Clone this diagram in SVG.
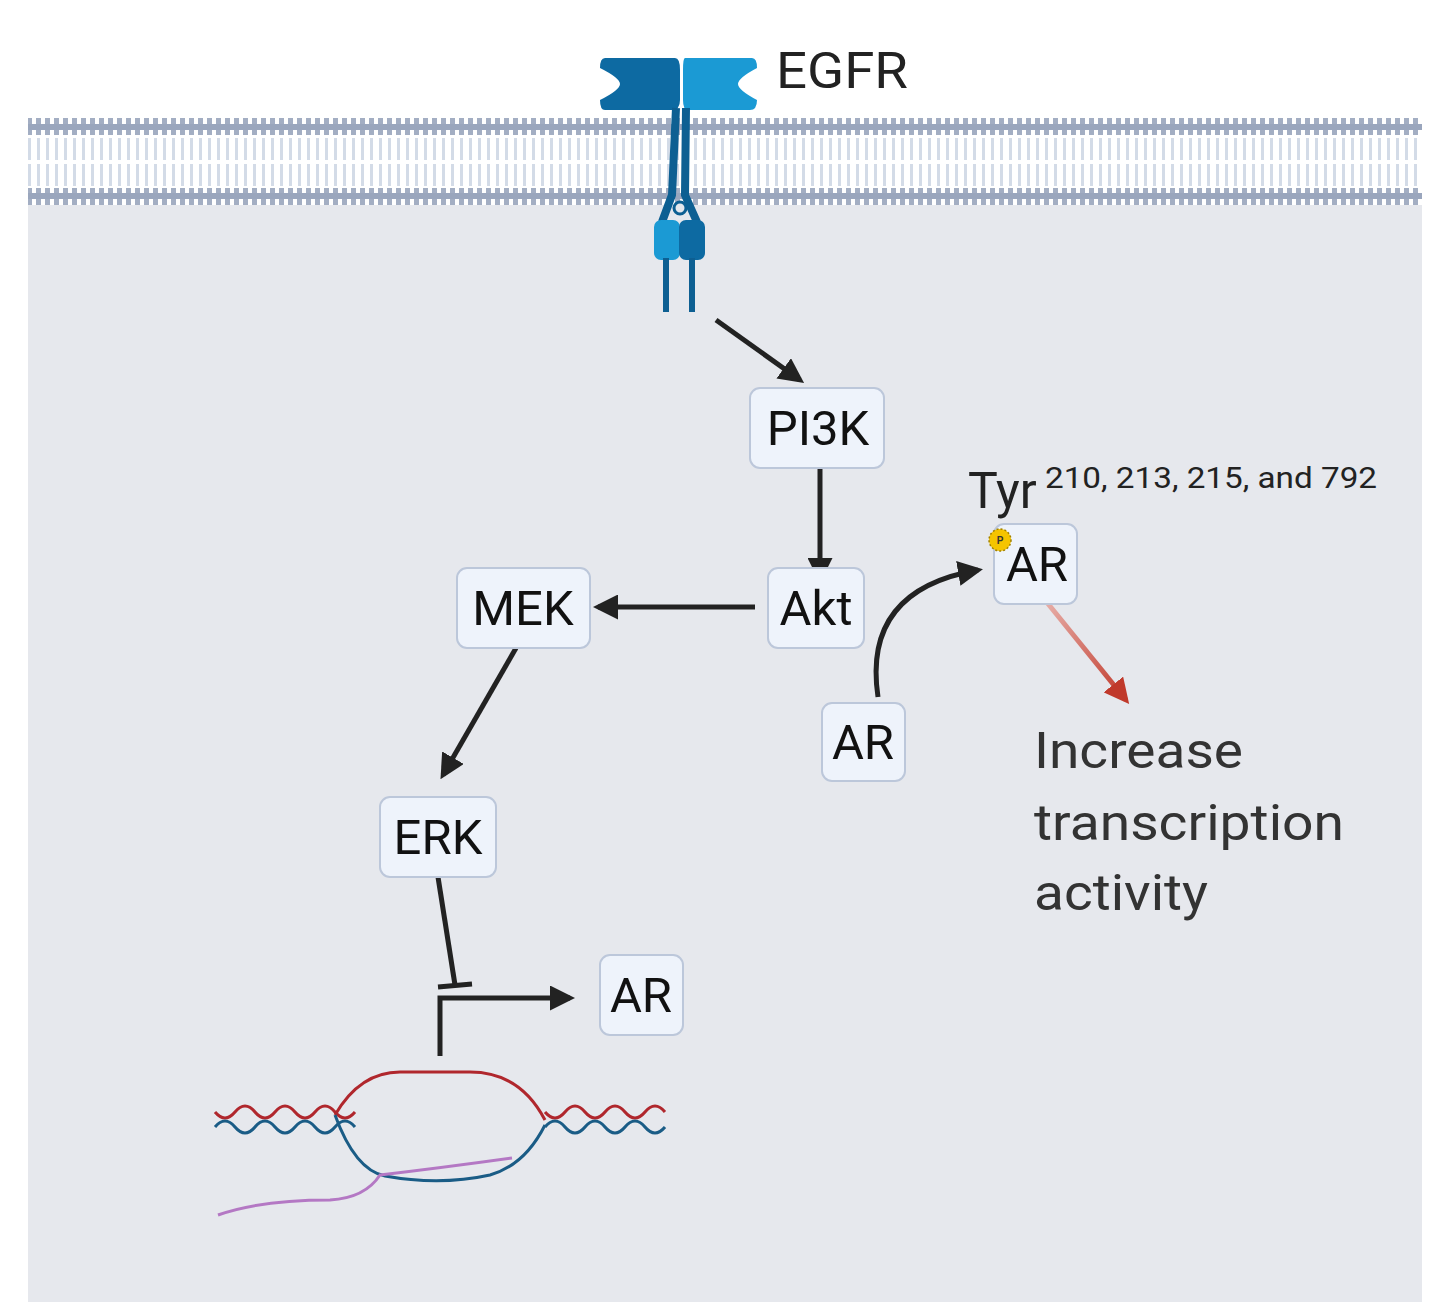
<svg xmlns="http://www.w3.org/2000/svg" width="1438" height="1315" viewBox="0 0 1438 1315">
<defs>
<style>
.box{fill:#eef3fb;stroke:#bcc7da;stroke-width:2}
.lbl{font-family:Roboto,"Liberation Sans",sans-serif;font-size:49px;fill:#111;text-anchor:middle}
.ln{stroke:#222;stroke-width:5;fill:none}
</style>
<marker id="ah" viewBox="0 0 10 10" refX="8" refY="5" markerWidth="5" markerHeight="5" orient="auto" markerUnits="strokeWidth"><path d="M0,0L10,5L0,10z" fill="#222"/></marker>
<marker id="ahr" viewBox="0 0 10 10" refX="8" refY="5" markerWidth="5" markerHeight="5" orient="auto" markerUnits="strokeWidth"><path d="M0,0L10,5L0,10z" fill="#c0392b"/></marker>
<pattern id="mem" x="0" y="118" width="9" height="87" patternUnits="userSpaceOnUse">
<rect x="0" y="0" width="5" height="17" fill="#a3aec3"/>
<rect x="0" y="70" width="5" height="17" fill="#a3aec3"/>
<rect x="1" y="20" width="3" height="22" fill="#d3dbe7"/>
<rect x="1" y="46" width="3" height="22" fill="#d3dbe7"/>
</pattern>
<linearGradient id="rg" x1="0" y1="0" x2="1" y2="1"><stop offset="0" stop-color="#e8b0aa"/><stop offset="1" stop-color="#c0392b"/></linearGradient>
</defs>
<rect width="1438" height="1315" fill="#fff"/>
<rect x="28" y="118" width="1394" height="1184" fill="#e6e8ed"/>
<g id="membrane">
<rect x="28" y="118" width="1394" height="87" fill="#fff"/>
<rect x="28" y="118" width="1394" height="87" fill="url(#mem)"/>
<rect x="28" y="124" width="1394" height="6" fill="#9aa6bd"/>
<rect x="28" y="193" width="1394" height="6" fill="#9aa6bd"/>
</g>
<g id="egfr">
<path d="M605,58 H675 Q680,58 680,70 V100 Q680,110 672,110 H605 Q600,110 600,100 Q620,90 620,84 Q620,78 600,68 Q600,58 605,58z" fill="#0d6aa2"/>
<path d="M685,58 H752 Q757,58 757,68 Q738,78 738,84 Q738,90 757,100 Q757,110 750,110 H688 Q683,110 683,100 V70 Q683,58 685,58z" fill="#1b9ad4"/>
<path d="M676,108 L672,195 L662,222" stroke="#0d5f92" stroke-width="8" fill="none"/>
<path d="M686,108 L685,195 L697,222" stroke="#0d5f92" stroke-width="8" fill="none"/>
<circle cx="680" cy="208" r="6" fill="#e6e8ed" stroke="#0d5f92" stroke-width="3"/>
<rect x="654" y="220" width="26" height="40" rx="7" fill="#1b9ad4"/>
<rect x="679" y="220" width="26" height="40" rx="7" fill="#0d6aa2"/>
<rect x="663" y="258" width="6" height="54" fill="#0d5f92"/>
<rect x="689" y="258" width="6" height="54" fill="#0d5f92"/>
<text x="776" y="88" font-family="Roboto,'Liberation Sans',sans-serif" font-size="50" fill="#222" textLength="132" lengthAdjust="spacingAndGlyphs">EGFR</text>
</g>
<g id="connectors">
<line class="ln" x1="716" y1="320" x2="800" y2="380" marker-end="url(#ah)"/>
<line class="ln" x1="820" y1="461" x2="820" y2="578" marker-end="url(#ah)"/>
<line class="ln" x1="755" y1="607" x2="598" y2="607" marker-end="url(#ah)"/>
<line class="ln" x1="516" y1="648" x2="443" y2="775" marker-end="url(#ah)"/>
<path class="ln" d="M878,697 Q862,590 978,570" marker-end="url(#ah)"/>
<line x1="1045" y1="600" x2="1126" y2="700" stroke="url(#rg)" stroke-width="5" marker-end="url(#ahr)"/>
<line class="ln" x1="438" y1="877" x2="455" y2="985"/>
<line class="ln" x1="438" y1="987" x2="472" y2="984"/>
<path class="ln" d="M440,1056 V998 H570" marker-end="url(#ah)"/>
</g>
<g id="dna" fill="none" stroke-width="3">
<path d="M215,1112 q10,12 20,0 q10,-12 20,0 q10,12 20,0 q10,-12 20,0 q10,12 20,0 q10,-12 20,0 q10,12 20,0" stroke="#b0272d" />
<path d="M215,1127 q10,-12 20,0 q10,12 20,0 q10,-12 20,0 q10,12 20,0 q10,-12 20,0 q10,12 20,0 q10,-12 20,0" stroke="#1a5c86"/>
<path d="M335,1115 Q360,1072 400,1072 H470 Q520,1072 545,1120" stroke="#b0272d"/>
<path d="M335,1115 Q355,1170 385,1176 Q440,1186 490,1175 Q525,1165 545,1125" stroke="#1a5c86"/>
<path d="M545,1112 q10,12 20,0 q10,-12 20,0 q10,12 20,0 q10,-12 20,0 q10,12 20,0 q10,-12 20,0" stroke="#b0272d"/>
<path d="M545,1127 q10,-12 20,0 q10,12 20,0 q10,-12 20,0 q10,12 20,0 q10,-12 20,0 q10,12 20,0" stroke="#1a5c86"/>
<path d="M218,1215 Q260,1200 330,1200 Q365,1198 380,1175 Q440,1168 512,1158" stroke="#b478c4"/>
</g>
<g id="pi3k"><rect class="box" x="750" y="388" width="134" height="80" rx="10"/><text class="lbl" x="818" y="445">PI3K</text></g>
<g id="akt"><rect class="box" x="768" y="568" width="96" height="80" rx="10"/><text class="lbl" x="816" y="625">Akt</text></g>
<g id="mek"><rect class="box" x="457" y="568" width="133" height="80" rx="10"/><text class="lbl" x="523" y="625">MEK</text></g>
<g id="erk"><rect class="box" x="380" y="797" width="116" height="80" rx="10"/><text class="lbl" x="438" y="854">ERK</text></g>
<g id="ar-bottom"><rect class="box" x="600" y="955" width="83" height="80" rx="10"/><text class="lbl" x="641" y="1012">AR</text></g>
<g id="ar-mid"><rect class="box" x="822" y="703" width="83" height="78" rx="10"/><text class="lbl" x="863" y="759">AR</text></g>
<g id="ar-top"><rect class="box" x="994" y="524" width="83" height="80" rx="10"/><text class="lbl" x="1037" y="581">AR</text>
<circle cx="1000" cy="540" r="11" fill="#f5c400" stroke="#a08000" stroke-width="1.5" stroke-dasharray="2 2"/>
<text x="1000" y="544" font-family="'Liberation Sans',sans-serif" font-size="10" font-weight="bold" text-anchor="middle" fill="#333">P</text></g>
<text x="968" y="508" font-family="Roboto,'Liberation Sans',sans-serif" font-size="50" fill="#222">Tyr</text>
<text x="1045" y="488" font-family="Roboto,'Liberation Sans',sans-serif" font-size="30" fill="#222" textLength="332" lengthAdjust="spacingAndGlyphs">210, 213, 215, and 792</text>
<g font-family="Roboto,'Liberation Sans',sans-serif" font-size="50" fill="#333">
<text x="1034" y="768" textLength="209" lengthAdjust="spacingAndGlyphs">Increase</text>
<text x="1034" y="840" textLength="310" lengthAdjust="spacingAndGlyphs">transcription</text>
<text x="1034" y="910" textLength="174" lengthAdjust="spacingAndGlyphs">activity</text>
</g>
</svg>
